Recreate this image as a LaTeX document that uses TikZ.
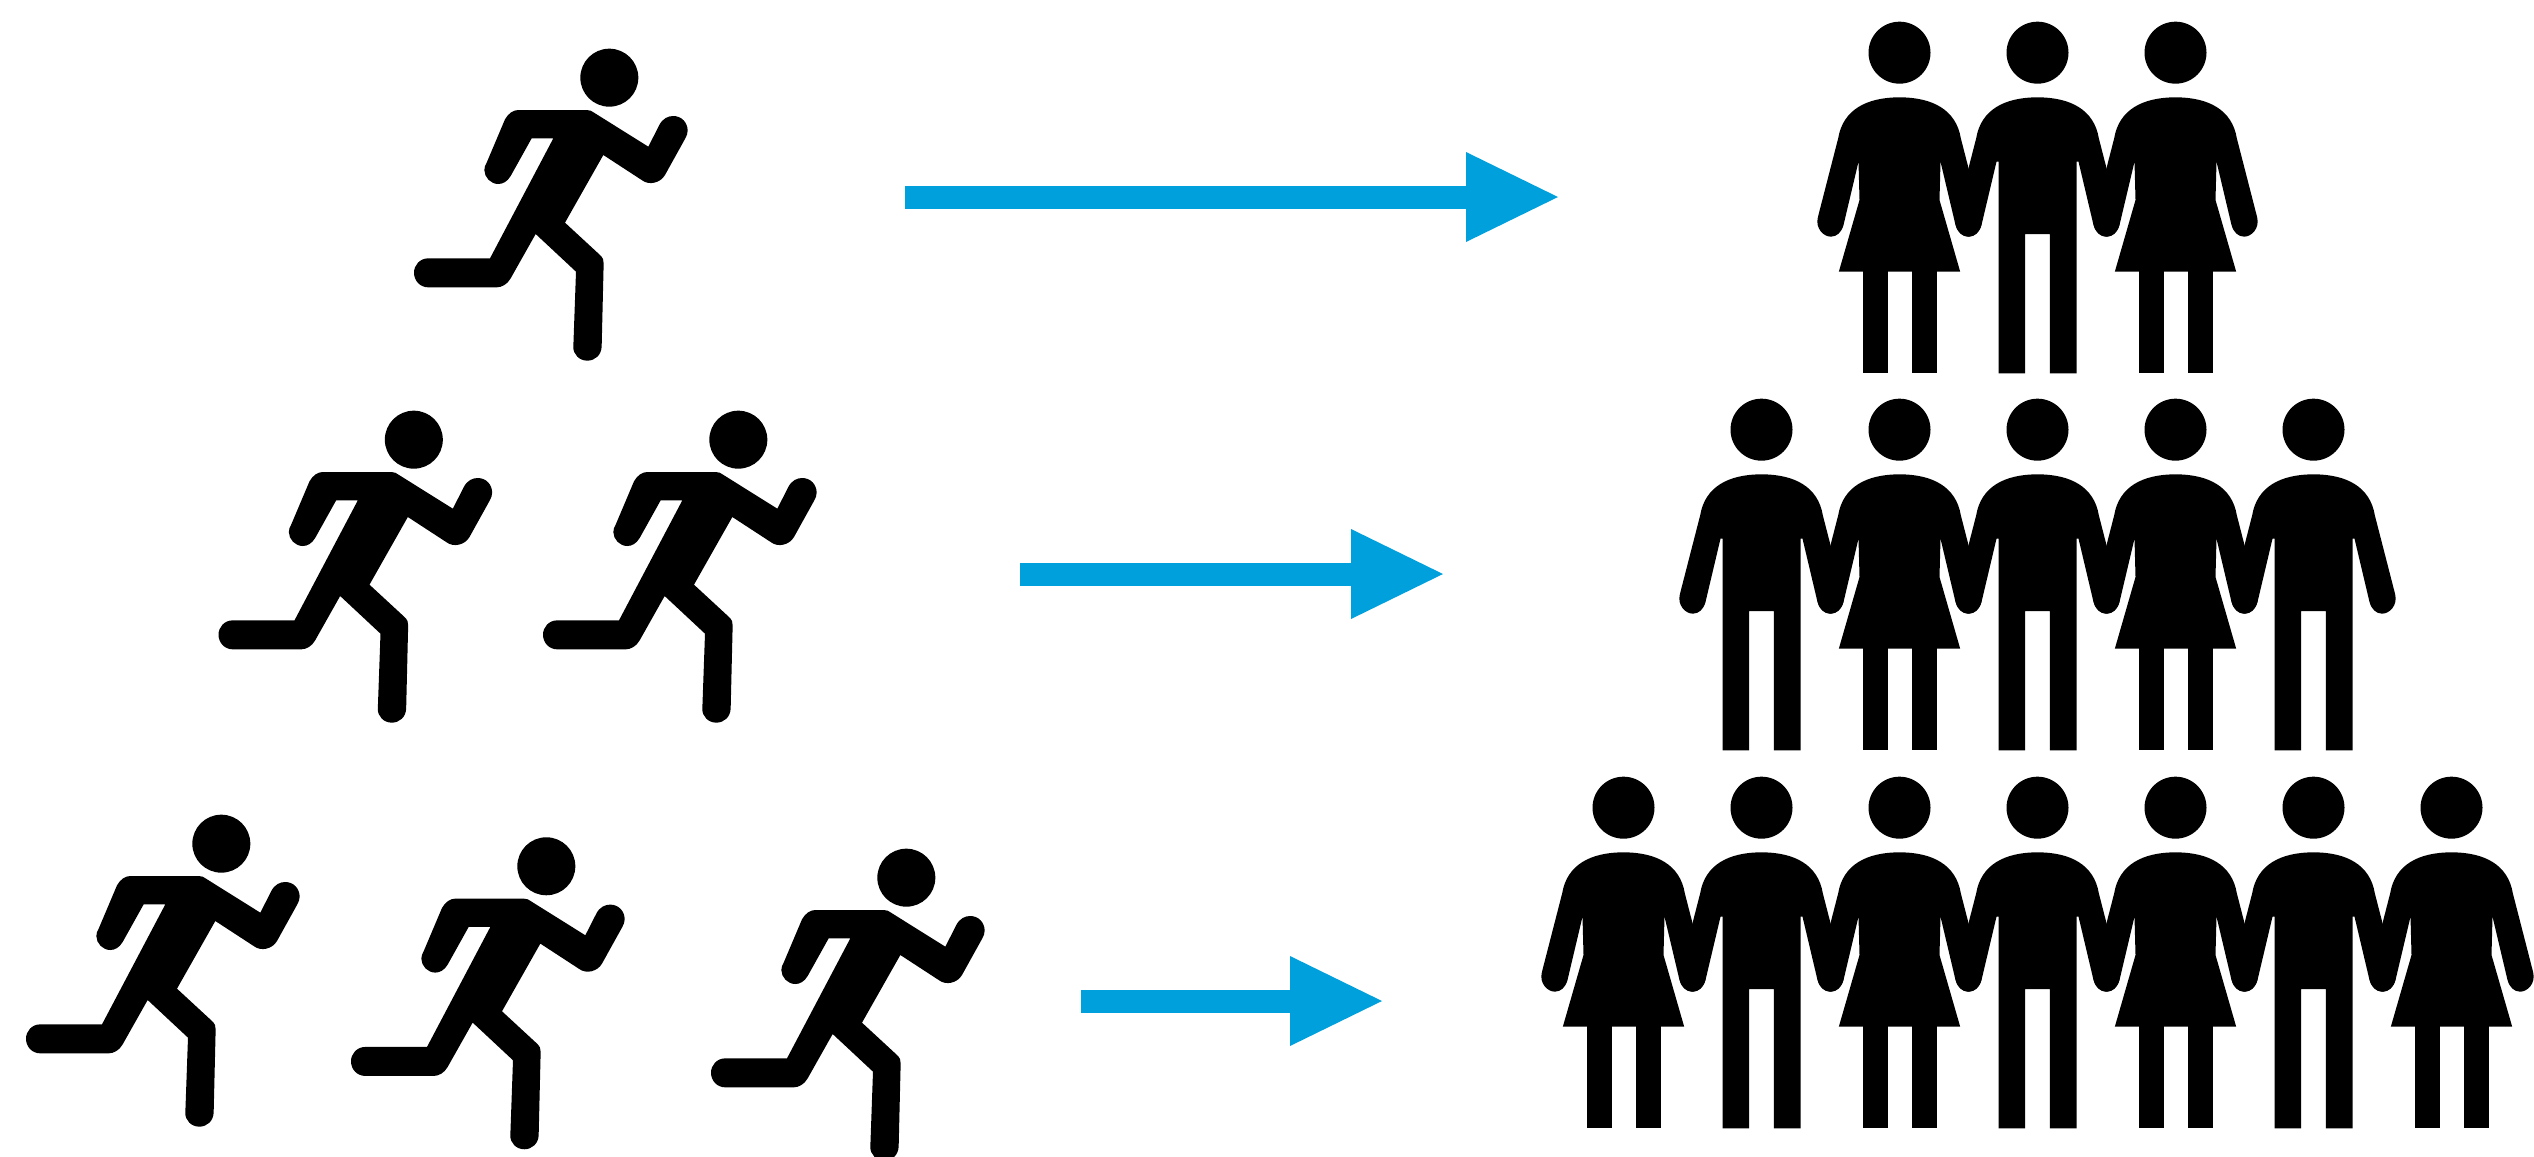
\documentclass[tikz,border=0pt]{standalone}
\usetikzlibrary{arrows.meta}
\definecolor{arrowblue}{RGB}{0,160,220}
\tikzset{
  blockarrow/.style={draw=arrowblue,line width=6.9pt,-{Triangle[length=27.6pt,width=27pt,line width=0pt,fill=arrowblue]}},
}
\newcommand{\runnerfig}[2]{%
  \begin{scope}[shift={(#1,#2)},scale=1/3]
    \fill (658,143) circle[radius=87];
    \fill (385,240) -- (590,240) .. controls (600,240) and (605,243) .. (612,248)
      -- (775,350) -- (808,285) .. controls (818,265) and (835,258) .. (850,258)
      .. controls (875,258) and (893,278) .. (893,302) .. controls (893,310) and (890,318) .. (886,325)
      -- (825,435) .. controls (812,458) and (778,468) .. (755,450)
      -- (640,375) -- (525,578) -- (630,675) .. controls (638,683) and (642,690) .. (641,700)
      -- (635,950) .. controls (634,975) and (615,992) .. (592,992)
      .. controls (568,992) and (549,973) .. (550,950)
      -- (558,725) -- (437,612) -- (362,745) .. controls (352,763) and (335,772) .. (320,772)
      -- (115,772) .. controls (90,772) and (72,752) .. (72,728)
      .. controls (72,705) and (90,685) .. (115,685)
      -- (300,685) -- (490,325) -- (425,325) -- (362,438)
      .. controls (352,455) and (338,462) .. (325,462)
      .. controls (302,462) and (283,442) .. (283,420)
      .. controls (283,412) and (286,405) .. (290,398)
      -- (345,268) .. controls (355,250) and (370,240) .. (385,240) -- cycle;
  \end{scope}}
\newcommand{\upperpart}[2]{%
    (0,262) .. controls (100,262) and (170,300) .. (184,385) -- (245,622)
    .. controls (253,655) and (228,680) .. (206,680)
    .. controls (188,680) and (174,667) .. (168,645) -- (123,455)
    #1
    -- (-123,455) -- (-168,645)
    .. controls (-174,667) and (-188,680) .. (-206,680)
    .. controls (-228,680) and (-253,655) .. (-245,622)
    -- (-184,385) .. controls (-170,300) and (-100,262) .. (0,262) -- cycle}
\newcommand{\womanfig}[2]{%
  \begin{scope}[shift={(#1,#2)},scale=1/3]
    \fill (0,128) circle[radius=93];
    \fill \upperpart{-- (120,570) -- (182,785) -- (-182,785) -- (-120,570)}{};
    \fill (-111,780) rectangle (-36,1090);
    \fill (37,780) rectangle (112,1090);
  \end{scope}}
\newcommand{\manfig}[2]{%
  \begin{scope}[shift={(#1,#2)},scale=1/3]
    \fill (0,128) circle[radius=93];
    \fill \upperpart{-- (117,455) -- (117,1090) -- (37,1090) -- (37,672) -- (-37,672) -- (-37,1090) -- (-117,1090) -- (-117,455)}{};
  \end{scope}}
\begin{document}
\begin{tikzpicture}[x=0.3pt,y=-0.3pt]
  \useasboundingbox (0,0) rectangle (2534,1156);
  % runners
  \runnerfig{390}{30}
  \runnerfig{194.5}{392}
  \runnerfig{519}{392}
  \runnerfig{2}{796}
  \runnerfig{327}{818.6}
  \runnerfig{687}{830}
  % arrows
  \coordinate (aone) at (905,197);
  \coordinate (bone) at (1558,197);
  \coordinate (atwo) at (1020,574);
  \coordinate (btwo) at (1443,574);
  \coordinate (athree) at (1081,1001);
  \coordinate (bthree) at (1382,1001);
  \draw[blockarrow] (aone) -- (bone);
  \draw[blockarrow] (atwo) -- (btwo);
  \draw[blockarrow] (athree) -- (bthree);
  % top row
  \womanfig{1899.5}{10}
  \manfig{2037.5}{10}
  \womanfig{2175.5}{10}
  % middle row
  \manfig{1761.5}{387}
  \womanfig{1899.5}{387}
  \manfig{2037.5}{387}
  \womanfig{2175.5}{387}
  \manfig{2313.5}{387}
  % bottom row
  \womanfig{1623.5}{765}
  \manfig{1761.5}{765}
  \womanfig{1899.5}{765}
  \manfig{2037.5}{765}
  \womanfig{2175.5}{765}
  \manfig{2313.5}{765}
  \womanfig{2451.5}{765}
\end{tikzpicture}
\end{document}
